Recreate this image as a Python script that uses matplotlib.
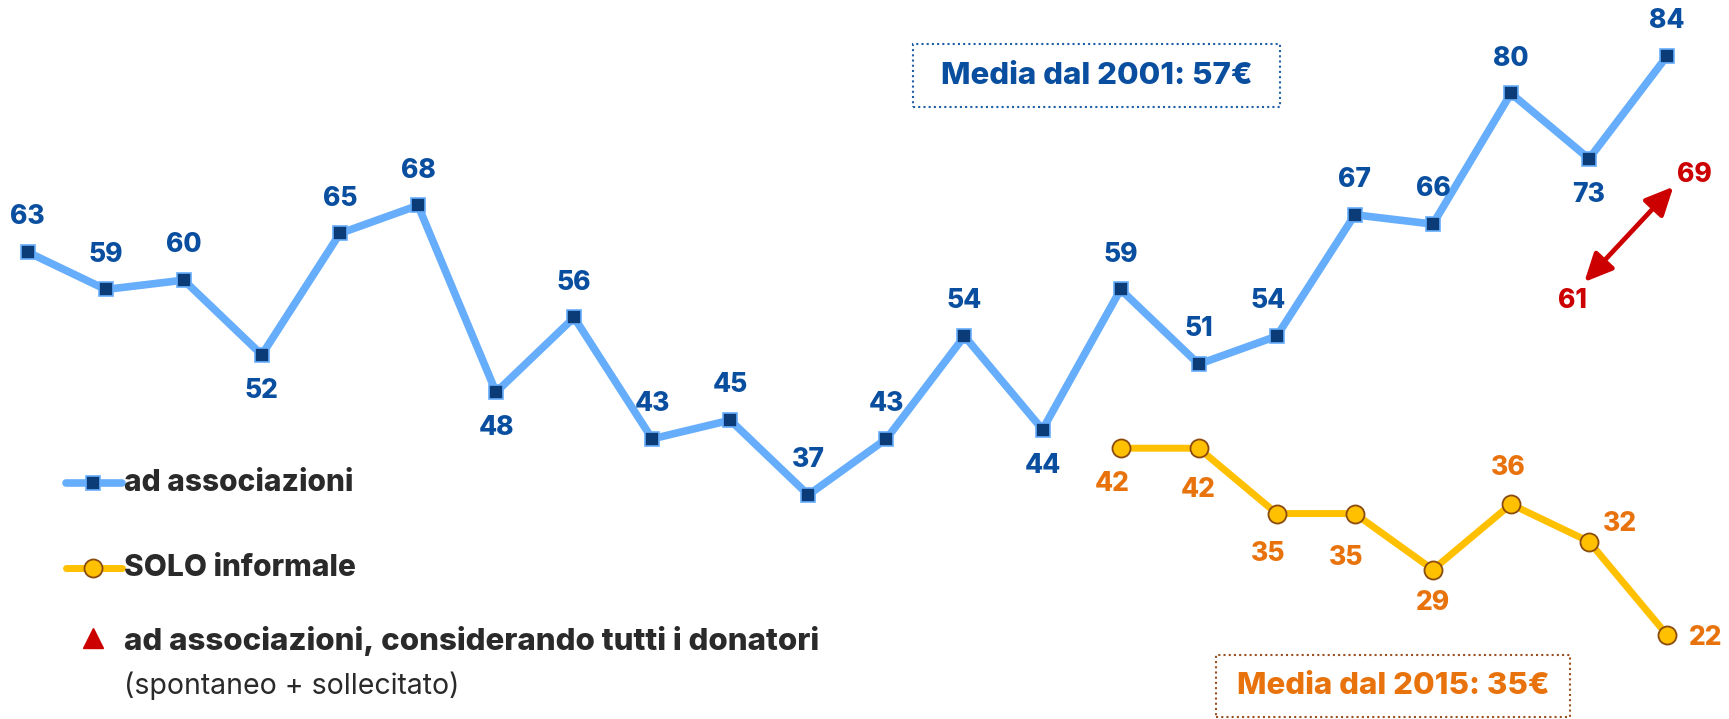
import matplotlib.pyplot as plt
from matplotlib.patches import Rectangle

plt.rcParams['font.family'] = ['Inter', 'DejaVu Sans']

years = list(range(2001, 2023))
associazioni = [63, 59, 60, 52, 65, 68, 48, 56, 43, 45, 37, 43, 54, 44, 59, 51, 54, 67, 66, 80, 73, 84]
informale_years = list(range(2015, 2023))
informale = [42, 42, 35, 35, 29, 36, 32, 22]
tutti_years = [2021, 2022]
tutti = [61, 69]

# label placement (offsets in points)
blue_pos = ['a', 'a', 'a', 'b', 'a', 'a', 'b', 'a', 'a', 'a', 'a', 'a', 'a', 'b',
            'a', 'a', 'a', 'a', 'a', 'a', 'b', 'a']
orange_off = [(-6, -26), (0, -30), (-6, -29), (-6, -32), (0, -24), (-2, 26), (22, 13), (28, -2)]
red_off = [(-12, -22), (20, 15)]

BLUE_LINE = '#66adfc'
BLUE_MARK = '#0b3c78'
BLUE_TXT = '#0a4f9f'
GOLD = '#ffc000'
BROWN = '#8a4a10'
ORANGE_TXT = '#e8720c'
RED = '#cc0000'
DARK = '#2a2a2a'

fig = plt.figure(figsize=(17.29, 7.19), dpi=100)
ax = fig.add_axes([0, 0, 1, 1])
ax.set_xlim(2001 - 0.354, 2001 + 21.793)
ax.set_ylim(13.0, 90.0)
ax.axis('off')

ax.plot(years, associazioni, color=BLUE_LINE, lw=5.5, marker='s', ms=10,
        mfc=BLUE_MARK, mec=BLUE_LINE, mew=1.2, zorder=3)
ax.plot(informale_years, informale, color=GOLD, lw=5, marker='o', ms=13,
        mfc=GOLD, mec=BROWN, mew=1.3, zorder=3)
ax.annotate('', xy=(tutti_years[0] - 0.06, tutti[0] - 1.2), xytext=(tutti_years[1] + 0.08, tutti[1] + 1.0),
            arrowprops=dict(arrowstyle='<|-|>,head_length=1.7,head_width=0.8',
                            color=RED, lw=3.4, shrinkA=0, shrinkB=0), zorder=3)

lab = dict(fontsize=19, fontweight='heavy', ha='center', va='center')
for x, v, p in zip(years, associazioni, blue_pos):
    dy = 25 if p == 'a' else -26
    dx = -6 if (x == 2017) else 0
    ax.annotate(str(v), (x, v), xytext=(dx, dy), textcoords='offset points',
                color=BLUE_TXT, **lab)
for x, v, o in zip(informale_years, informale, orange_off):
    ax.annotate(str(v), (x, v), xytext=o, textcoords='offset points',
                color=ORANGE_TXT, **lab)
for x, v, o in zip(tutti_years, tutti, red_off):
    ax.annotate(str(v), (x, v), xytext=o, textcoords='offset points',
                color=RED, **lab)

# legend drawn by hand in figure pixels
def fx(px):
    return px / 1729

def fy(py):
    return 1 - py / 719

ax.plot([fx(66), fx(122)], [fy(483), fy(483)], transform=fig.transFigure,
        color=BLUE_LINE, lw=5.5, solid_capstyle='round')
ax.plot([fx(93)], [fy(483)], transform=fig.transFigure, marker='s', ms=10,
        mfc=BLUE_MARK, mec=BLUE_LINE, mew=1.2)
ax.plot([fx(66), fx(122)], [fy(568), fy(568)], transform=fig.transFigure,
        color=GOLD, lw=5, solid_capstyle='round')
ax.plot([fx(93)], [fy(568)], transform=fig.transFigure, marker='o', ms=13,
        mfc=GOLD, mec=BROWN, mew=1.3)
ax.plot([fx(93)], [fy(638)], transform=fig.transFigure, marker='^', ms=14,
        color=RED)
leg = dict(fontsize=21.5, fontweight='heavy', color=DARK, va='center')
fig.text(fx(124), fy(483), 'ad associazioni', **leg)
fig.text(fx(124), fy(568), 'SOLO informale', **leg)
fig.text(fx(124), fy(641), 'ad associazioni, considerando tutti i donatori',
         fontsize=22.5, fontweight='heavy', color=DARK, va='center')
fig.text(fx(124), fy(686), '(spontaneo + sollecitato)', fontsize=20.5,
         color=DARK, va='center')

# average boxes
fig.patches.append(Rectangle((fx(913), fy(107)), fx(1280) - fx(913), fy(44) - fy(107),
                             transform=fig.transFigure, fill=False, ec='#1f5fa8',
                             ls=(0, (1, 1.5)), lw=1.5))
fig.text((fx(913) + fx(1280)) / 2, fy(76), 'Media dal 2001: 57€', fontsize=22.5,
         fontweight='heavy', color=BLUE_TXT, ha='center', va='center')
fig.patches.append(Rectangle((fx(1216), fy(717)), fx(1570) - fx(1216), fy(655) - fy(717),
                             transform=fig.transFigure, fill=False, ec='#9a5020',
                             ls=(0, (1, 1.5)), lw=1.5))
fig.text((fx(1216) + fx(1570)) / 2, fy(686), 'Media dal 2015: 35€', fontsize=22.5,
         fontweight='heavy', color=ORANGE_TXT, ha='center', va='center')

fig.savefig('out.png', dpi=100)
